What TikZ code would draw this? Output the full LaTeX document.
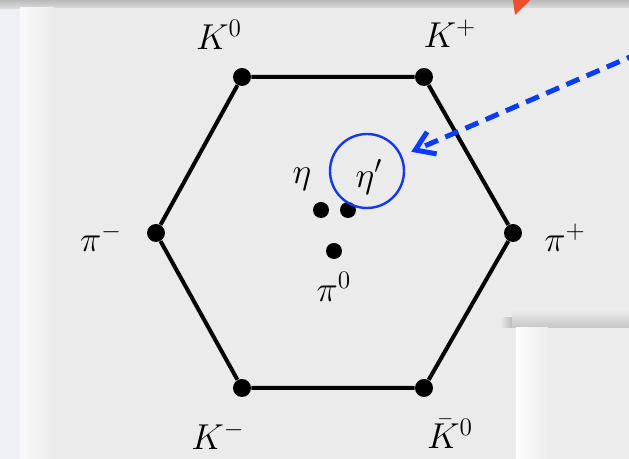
\RequirePackage{fix-cm}
\documentclass[tikz,border=0pt]{standalone}
\usepackage{amsmath}
\usepackage{tikz}
\usetikzlibrary{arrows.meta}

\definecolor{slidegray}{HTML}{EBEBEB}
\definecolor{stripgray}{HTML}{EEF0F3}
\definecolor{boxgray}{HTML}{EDEDED}
\definecolor{ringblue}{HTML}{1438F0}
\definecolor{arrowblue}{HTML}{0A3CFF}
\definecolor{arrowred}{HTML}{EF4F2C}

\begin{document}
\begin{tikzpicture}[x=0.5pt,y=-0.5pt,
  vertex/.style={circle,fill,inner sep=0pt,minimum size=9pt},
  meson/.style={circle,fill,inner sep=0pt,minimum size=8pt},
  lbl/.style={font=\fontsize{18}{20}\selectfont,inner sep=0pt},
  edge/.style={line width=2pt}]
\useasboundingbox (0,0) rectangle (629,459);
\clip (0,0) rectangle (629,459);

% Slide background and shadows
\fill[stripgray] (0,0) rectangle (629,459);
\shade[top color=gray!55, bottom color=gray!25] (0,0) rectangle (629,9);
\fill[slidegray] (20,8) rectangle (629,459);
\shade[left color=white!70!slidegray, right color=slidegray] (20,8) rectangle (55,459);
\shade[top color=slidegray, bottom color=gray!45] (512,310) rectangle (629,328);
\shade[left color=slidegray, right color=gray!45!slidegray] (500,318) rectangle (512,328);
\fill[boxgray] (516,328) rectangle (629,459);
\shade[left color=white!85!boxgray, right color=boxgray] (516,328) rectangle (548,459);

% Octet vertices
\node[vertex] (k0) at (242,77) {};
\node[vertex] (kp) at (424,77) {};
\node[vertex] (pip) at (513,233) {};
\node[vertex] (kbar) at (424,388) {};
\node[vertex] (km) at (242,388) {};
\node[vertex] (pim) at (156,233) {};
\draw[edge] (k0) -- (kp) -- (pip) -- (kbar) -- (km) -- (pim) -- (k0);

% Centre states
\node[meson] (eta) at (321,210) {};
\node[meson] (etap) at (348,210) {};
\node[meson] (pi0) at (334,251) {};

% Labels
\node[lbl] (lk0) at (219,35) {$K^0$};
\node[lbl] (lkp) at (450,34) {$K^+$};
\node[lbl] (lpip) at (565,238) {$\pi^+$};
\node[lbl] (lpim) at (101,238) {$\pi^-$};
\node[lbl] (lkm) at (218,436) {$K^-$};
\node[lbl] (lkbar) at (450,434) {$\bar{K}^0$};
\node[lbl] (leta) at (302,179) {$\eta$};
\node[lbl] (letap) at (369,177) {$\eta'$};
\node[lbl] (lpi0) at (334,287) {$\pi^0$};

% Highlight and pointers
\node[draw=ringblue,line width=1.2pt,circle,minimum size=37pt,inner sep=0pt] (ring) at (367,171) {};
\coordinate (bluesrc) at (660,44);
\draw[arrowblue,line width=2.5pt,dash pattern=on 7pt off 4pt,
  -{Straight Barb[length=9pt,width=12pt]},shorten >=5pt] (bluesrc) -- (ring);
\coordinate (redsrc) at (534,-40);
\coordinate (redtip) at (515,15);
\draw[arrowred,line width=2.5pt,-{Stealth[length=11pt,width=11pt]}] (redsrc) -- (redtip);

\end{tikzpicture}
\end{document}
